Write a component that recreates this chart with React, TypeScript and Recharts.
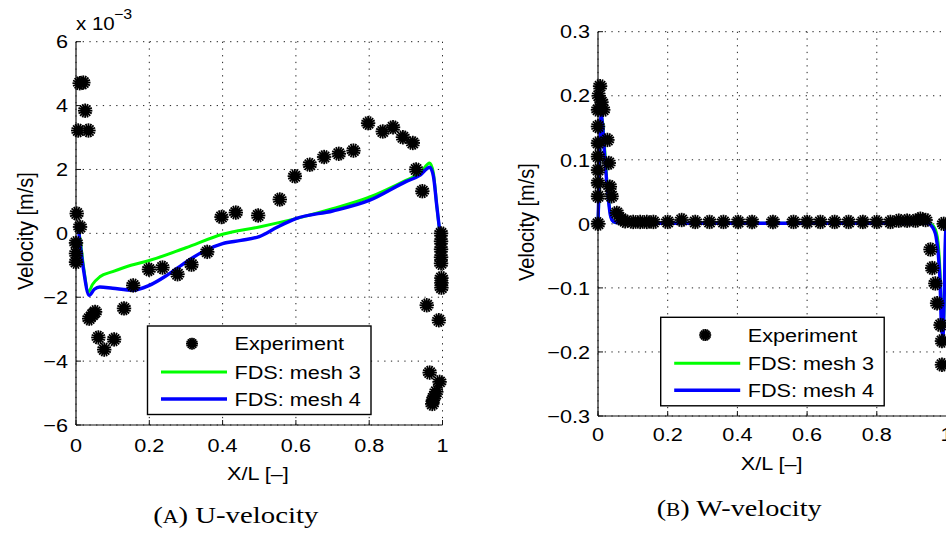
import React from 'react';
import { ComposedChart, Scatter, Line, XAxis, YAxis, CartesianGrid } from 'recharts';

const FONT = '"Liberation Sans", Arial, Helvetica, sans-serif';
const SERIF = '"Liberation Serif", "DejaVu Serif", serif';
const SX = 1.14; // labels are set a little wide

// ---- U-velocity (values in 1e-3 m/s) ----
const uExpX = [0, 0, 0, 0.002, 0.011, 0.006, 0.01, 0.02, 0.025, 0.034, 0.036, 0.045, 0.052, 0.061, 0.077, 0.104, 0.131, 0.156, 0.199, 0.236, 0.277, 0.315, 0.358, 0.397, 0.436, 0.497, 0.556, 0.597, 0.638, 0.677, 0.717, 0.757, 0.797, 0.837, 0.865, 0.892, 0.919, 0.928, 0.945, 0.957, 0.965, 0.972, 0.974, 0.978, 0.983, 0.99, 0.992, 0.996, 0.996, 0.996, 0.996, 0.996, 0.997, 0.997, 0.997];
const uExpV = [-0.9, -0.63, -0.3, 0.62, 0.2, 3.22, 4.7, 4.72, 3.84, 3.22, -2.67, -2.55, -2.46, -3.26, -3.64, -3.32, -2.35, -1.63, -1.13, -1.07, -1.28, -0.98, -0.58, 0.51, 0.65, 0.56, 1.06, 1.79, 2.15, 2.39, 2.49, 2.59, 3.45, 3.19, 3.32, 3.01, 2.83, 2.0, 1.32, -2.25, -4.36, -5.34, -5.22, -5.1, -4.96, -2.72, -4.65, 0, -0.25, -0.5, -0.75, -0.94, -1.4, -1.55, -1.7];

const uMesh3X = [0, 0.005, 0.01, 0.02, 0.034, 0.045, 0.065, 0.1, 0.15, 0.2, 0.3, 0.4, 0.5, 0.6, 0.7, 0.8, 0.9, 0.94, 0.965, 0.975, 0.985, 0.995, 1.0];
const uMesh3V = [0.1, 0.15, -0.1, -1.0, -1.83, -1.6, -1.36, -1.2, -1.0, -0.85, -0.45, -0.03, 0.2, 0.46, 0.77, 1.13, 1.66, 1.9, 2.2, 1.9, 0.8, -0.1, -0.2];

const uMesh4X = [0, 0.005, 0.01, 0.02, 0.036, 0.05, 0.065, 0.1, 0.156, 0.2, 0.25, 0.3, 0.35, 0.4, 0.45, 0.5, 0.55, 0.6, 0.7, 0.8, 0.9, 0.94, 0.965, 0.975, 0.985, 0.995, 1.0];
const uMesh4V = [0.15, 0.25, -0.2, -1.1, -1.94, -1.75, -1.68, -1.72, -1.78, -1.63, -1.3, -0.9, -0.55, -0.32, -0.22, -0.1, 0.2, 0.46, 0.7, 1.03, 1.62, 1.83, 2.07, 1.8, 0.8, -0.06, -0.15];

// ---- W-velocity (m/s) ----
const wExpX = [0, 0, 0, 0, 0, 0, 0, 0, 0.002, 0.006, 0.01, 0.015, 0.027, 0.031, 0.034, 0.039, 0.054, 0.066, 0.078, 0.101, 0.121, 0.14, 0.159, 0.2, 0.24, 0.279, 0.32, 0.36, 0.402, 0.442, 0.502, 0.561, 0.6, 0.638, 0.679, 0.719, 0.76, 0.8, 0.839, 0.863, 0.887, 0.911, 0.925, 0.94, 0.954, 0.959, 0.968, 0.973, 0.983, 0.987, 0.987, 0.992];
const wExpV = [0, 0.043, 0.064, 0.084, 0.105, 0.126, 0.152, 0.178, 0.2, 0.215, 0.19, 0.178, 0.131, 0.095, 0.058, 0.043, 0.017, 0.008, 0.004, 0.003, 0.003, 0.003, 0.003, 0.003, 0.006, 0.003, 0.003, 0.003, 0.003, 0.003, 0.003, 0.003, 0.003, 0.003, 0.003, 0.003, 0.003, 0.003, 0.003, 0.005, 0.005, 0.005, 0.008, 0.006, -0.04, -0.069, -0.093, -0.124, -0.158, -0.183, -0.22, 0.0];

const wMesh3X = [0, 0.003, 0.006, 0.009, 0.013, 0.02, 0.025, 0.03, 0.035, 0.04, 0.05, 0.1, 0.3, 0.5, 0.7, 0.9, 0.945, 0.955, 0.963, 0.97, 0.976, 0.981, 0.986, 0.99, 0.994, 0.997, 1.0];
const wMesh3V = [0, 0.05, 0.13, 0.168, 0.16, 0.11, 0.07, 0.04, 0.018, 0.007, 0.002, 0.001, 0.001, 0.001, 0.001, 0.001, 0.001, 0.0, -0.004, -0.012, -0.03, -0.07, -0.14, -0.17, -0.11, -0.03, 0];

const wMesh4X = [0, 0.003, 0.006, 0.009, 0.013, 0.02, 0.025, 0.03, 0.035, 0.04, 0.05, 0.1, 0.3, 0.5, 0.7, 0.9, 0.945, 0.955, 0.963, 0.97, 0.976, 0.981, 0.986, 0.99, 0.994, 0.997, 1.0];
const wMesh4V = [0, 0.06, 0.14, 0.17, 0.155, 0.1, 0.065, 0.037, 0.015, 0.006, 0.002, 0.001, 0.001, 0.001, 0.001, 0.001, 0.001, -0.002, -0.008, -0.02, -0.045, -0.085, -0.165, -0.175, -0.1, -0.02, 0];

const xTicks = [0, 0.2, 0.4, 0.6, 0.8, 1];
const uTicks = [-6, -4, -2, 0, 2, 4, 6];
const wTicks = [-0.3, -0.2, -0.1, 0, 0.1, 0.2, 0.3];

const legendLabels = ['Experiment', 'FDS: mesh 3', 'FDS: mesh 4'];
const GREEN = '#00ff00';
const BLUE = '#0000ff';

const zip = (xs: number[], ys: number[]) => xs.map((x, i) => ({ x, y: ys[i] }));

const fmt = (v: number) => {
  const s = String(Math.round(Math.abs(v) * 100) / 100);
  return v < 0 ? '\u2212' + s : s;
};

// MATLAB-style '*' marker
const Asterisk = ({ cx, cy, r = 7.2 }: { cx: number; cy: number; r?: number }) => (
  <g>
    <circle cx={cx} cy={cy} r={r * 0.64} fill="#000" />
    {[0, 1, 2, 3, 4, 5, 6, 7].map(i => {
      const a = (i * Math.PI) / 8;
      const dx = r * Math.cos(a);
      const dy = r * Math.sin(a);
      return <line key={i} x1={cx - dx} y1={cy - dy} x2={cx + dx} y2={cy + dy} stroke="#000" strokeWidth={1.8} />;
    })}
  </g>
);

const Tick = (props: any) => {
  const { x, y, payload, textAnchor } = props;
  const dy = textAnchor === 'middle' ? '0.71em' : '0.355em';
  return (
    <text
      transform={`translate(${x},${y}) scale(${SX},1)`}
      textAnchor={textAnchor}
      dy={dy}
      fontSize={19}
      fontFamily={FONT}
      fill="#000"
    >
      {fmt(payload.value)}
    </text>
  );
};

interface PanelProps {
  width: number;
  margin: { top: number; right: number; bottom: number; left: number };
  yAxisWidth: number;
  xTickMargin: number;
  yDomain: [number, number];
  yTicks: number[];
  exp: { x: number; y: number }[];
  mesh3: { x: number; y: number }[];
  mesh4: { x: number; y: number }[];
}

const Panel: React.FC<PanelProps> = ({ width, margin, yAxisWidth, xTickMargin, yDomain, yTicks, exp, mesh3, mesh4 }) => (
  <ComposedChart width={width} height={534} margin={margin}>
    <CartesianGrid stroke="#222" strokeDasharray="1.3 5.4" strokeWidth={1} />
    <XAxis
      type="number"
      dataKey="x"
      domain={[0, 1]}
      ticks={xTicks}
      interval={0}
      height={40}
      axisLine={{ stroke: '#111', strokeWidth: 1.2 }}
      tickLine={{ stroke: '#111' }}
      tickSize={-5}
      tickMargin={xTickMargin}
      tick={(p: any) => <Tick {...p} />}
    />
    <YAxis
      type="number"
      dataKey="y"
      domain={yDomain}
      ticks={yTicks}
      interval={0}
      width={yAxisWidth}
      axisLine={{ stroke: '#111', strokeWidth: 1.2 }}
      tickLine={{ stroke: '#111' }}
      tickSize={-5}
      tickMargin={13}
      tick={(p: any) => <Tick {...p} />}
    />
    <Scatter data={exp} isAnimationActive={false} shape={(p: any) => <Asterisk cx={p.cx} cy={p.cy} />} />
    <Line data={mesh3} dataKey="y" type="monotone" stroke={GREEN} strokeWidth={3} dot={false} isAnimationActive={false} />
    <Line data={mesh4} dataKey="y" type="monotone" stroke={BLUE} strokeWidth={3.4} dot={false} isAnimationActive={false} />
  </ComposedChart>
);

const Legend = ({ x, y }: { x: number; y: number }) => {
  const rows = [17.7, 46, 73];
  return (
    <g>
      <rect x={x} y={y} width={223.5} height={88.5} fill="#fff" stroke="#000" strokeWidth={1.4} />
      <Asterisk cx={x + 44.5} cy={y + rows[0]} r={6} />
      <line x1={x + 13.5} x2={x + 79.5} y1={y + rows[1]} y2={y + rows[1]} stroke={GREEN} strokeWidth={3} />
      <line x1={x + 13.5} x2={x + 79.5} y1={y + rows[2]} y2={y + rows[2]} stroke={BLUE} strokeWidth={3.4} />
      {legendLabels.map((t, i) => (
        <text
          key={t}
          transform={`translate(${x + 87},${y + rows[i]}) scale(${SX},1)`}
          dy="0.355em"
          fontSize={19}
          fontFamily={FONT}
          fill="#000"
        >
          {t}
        </text>
      ))}
    </g>
  );
};

const AxisTitle = ({ x, y, text, rotate }: { x: number; y: number; text: string; rotate?: boolean }) => (
  <text
    transform={`translate(${x},${y}) scale(${SX},1)${rotate ? ' rotate(-90)' : ''}`}
    textAnchor="middle"
    fontSize={rotate ? 20 : 19}
    fontFamily={FONT}
    fill="#000"
  >
    {text}
  </text>
);

const Caption = ({ x, y, letter, text }: { x: number; y: number; letter: string; text: string }) => (
  <text x={x} y={y} textLength={165} lengthAdjust="spacingAndGlyphs" fontSize={24} fontFamily={SERIF} fill="#000">
    (<tspan fontSize={18}>{letter}</tspan>) {text}
  </text>
);

export default function App() {
  return (
    <div style={{ position: 'absolute', left: 0, top: 0, width: 946, height: 534, overflow: 'hidden', background: '#fff' }}>
      <div style={{ position: 'absolute', left: 0, top: 0 }}>
        <Panel
          width={460}
          margin={{ top: 41.7, right: 17.5, bottom: 69, left: 0 }}
          yAxisWidth={76}
          xTickMargin={19}
          yDomain={[-6, 6]}
          yTicks={uTicks}
          exp={zip(uExpX, uExpV)}
          mesh3={zip(uMesh3X, uMesh3V)}
          mesh4={zip(uMesh4X, uMesh4V)}
        />
      </div>
      <div style={{ position: 'absolute', left: 480, top: 0 }}>
        <Panel
          width={520}
          margin={{ top: 31.7, right: 53.5, bottom: 78, left: 0 }}
          yAxisWidth={118}
          xTickMargin={17}
          yDomain={[-0.3, 0.3]}
          yTicks={wTicks}
          exp={zip(wExpX, wExpV)}
          mesh3={zip(wMesh3X, wMesh3V)}
          mesh4={zip(wMesh4X, wMesh4V)}
        />
      </div>
      <svg width={946} height={534} style={{ position: 'absolute', left: 0, top: 0, pointerEvents: 'none' }}>
        {/* exponent of the U axis */}
        <text transform={`translate(76,30) scale(${SX},1)`} fontSize={18} fontFamily={FONT} fill="#000">
          x 10
        </text>
        <text transform={`translate(114,19) scale(${SX},1)`} fontSize={14} fontFamily={FONT} fill="#000">
          {'\u22123'}
        </text>

        <AxisTitle x={33} y={231} text="Velocity [m/s]" rotate />
        <AxisTitle x={258} y={480} text="X/L [–]" />
        <Legend x={147.5} y={326} />
        <Caption x={153.3} y={523} letter="A" text="U-velocity" />

        <AxisTitle x={534} y={222} text="Velocity [m/s]" rotate />
        <AxisTitle x={771.7} y={470} text="X/L [–]" />
        <Legend x={660.7} y={317.3} />
        <Caption x={656.7} y={516} letter="B" text="W-velocity" />
      </svg>
    </div>
  );
}
